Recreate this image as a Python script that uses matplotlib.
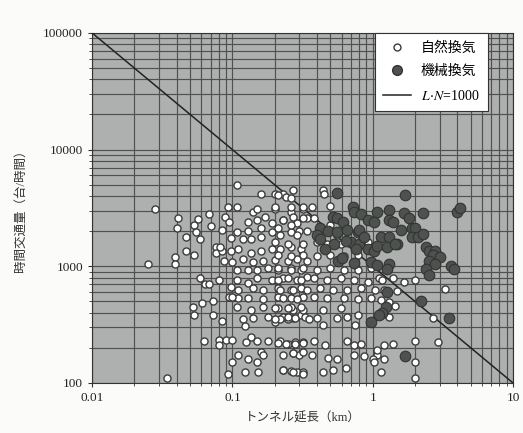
import numpy as np
import matplotlib.pyplot as plt
from matplotlib.lines import Line2D

plt.rcParams['font.family'] = ['Liberation Serif', 'Noto Sans CJK JP']
plt.rcParams['mathtext.fontset'] = 'stix'

# 自然換気 (natural ventilation): tunnel length km, traffic veh/h
nat_km = [0.028, 0.025, 0.034,
          0.107, 0.16, 0.2, 0.23, 0.27,
          0.041, 0.04, 0.068, 0.07, 0.057, 0.053,
          0.055, 0.059, 0.047, 0.047, 0.053, 0.039, 0.039,
          0.076, 0.077, 0.085,
          0.088, 0.093, 0.107, 0.095, 0.085,
          0.059, 0.064, 0.068, 0.08,
          0.052, 0.053, 0.061, 0.073, 0.073, 0.085,
          0.063, 0.08, 0.09, 0.1, 0.08,
          0.095, 0.11, 0.12, 0.123,
          0.1, 0.093, 0.123, 0.153,
          0.11, 0.13, 0.16, 0.165,
          0.135, 0.15, 0.125,
          0.18, 0.22, 0.25, 0.28, 0.32,
          0.23, 0.26, 0.29, 0.32, 0.15,
          0.27, 0.3, 0.2, 0.23, 0.25, 0.27, 0.31,
          0.14, 0.15, 0.17, 0.2, 0.26, 0.32,
          0.13, 0.15, 0.13, 0.16, 0.19, 0.23, 0.29, 0.34,
          0.108, 0.097, 0.12, 0.135, 0.16, 0.19, 0.22, 0.26, 0.3,
          0.082, 0.097, 0.11, 0.135, 0.16, 0.19, 0.22, 0.26, 0.31,
          0.087, 0.1, 0.12, 0.14, 0.165, 0.2, 0.25, 0.29, 0.34,
          0.108, 0.13, 0.15, 0.18, 0.21, 0.26, 0.31,
          0.108, 0.13, 0.15, 0.19, 0.23, 0.29, 0.34,
          0.097, 0.11, 0.14, 0.165, 0.21, 0.26, 0.31,
          0.1, 0.13, 0.165, 0.21, 0.26, 0.32,
          0.108, 0.135, 0.165, 0.21, 0.26, 0.32,
          0.14, 0.18, 0.22, 0.27, 0.33,
          0.44, 0.45, 0.5, 0.21, 0.24, 0.26,
          0.2, 0.26, 0.32, 0.37, 0.27, 0.32, 0.38,
          0.23, 0.26, 0.21, 0.29, 0.34, 0.42, 0.5, 0.56, 0.62, 0.82,
          0.2, 0.25, 0.32, 0.4, 0.47, 0.59, 0.72, 0.92, 1.02,
          0.21, 0.26, 0.32, 0.4, 0.5, 0.62, 0.78,
          0.21, 0.26, 0.32, 0.4, 0.5, 0.62, 0.78, 0.97,
          0.21, 0.25, 0.31, 0.38, 0.47, 0.59, 0.73, 0.92, 1.1,
          0.22, 0.27, 0.34, 0.42, 0.52, 0.66, 0.82, 1.03,
          0.23, 0.29, 0.38, 0.47, 0.62, 0.79, 0.97,
          0.2, 0.25, 0.31, 0.44, 0.59, 0.66, 0.78,
          0.2, 0.25, 0.28, 0.35, 0.4, 0.44, 0.56, 0.75,
          0.21, 0.24, 0.28, 0.32, 0.38, 0.46, 0.66, 0.73, 0.82,
          0.23, 0.27, 0.32, 0.37, 0.48, 0.56, 0.73, 0.86, 1.08,
          0.23, 0.27, 0.32, 0.44, 0.52, 0.64, 1.0,
          3.3, 2.7, 2.0, 2.9, 1.2, 1.4, 1.08, 1.2, 1.02, 1.15, 2.0, 2.0,
          1.17, 1.4, 1.67, 2.0, 1.2, 1.5, 1.15, 1.3, 1.45, 1.3]
nat_veh = [3100, 1050, 110,
           5000, 4150, 4150, 4150, 4500,
           2600, 2150, 2800, 2200, 2550, 2250,
           1950, 1700, 1800, 1350, 1250, 1200, 1050,
           1450, 1300, 1350,
           2650, 3200, 3200, 2400, 2050,
           800, 700, 710, 770,
           450, 380, 480, 500, 380, 340,
           230, 235, 235, 235, 210,
           550, 540, 350, 305,
           150, 120, 125, 125,
           175, 160, 185, 175,
           250, 230, 225,
           230, 230, 215, 225, 225,
           130, 127, 125, 125, 150,
           180, 175, 335, 370, 350, 420, 380,
           2900, 3100, 2650, 3100, 2900, 3100,
           2400, 2500, 2000, 2150, 2350, 2500, 2350, 2600,
           1950, 1750, 1700, 1700, 1800, 1950, 1850, 1950, 2000,
           1450, 1350, 1400, 1300, 1350, 1400, 1400, 1450, 1400,
           1100, 1080, 1150, 1080, 1100, 1130, 1100, 1150, 1100,
           930, 930, 930, 970, 930, 970, 930,
           770, 720, 790, 770, 790, 770, 810,
           660, 630, 650, 630, 650, 630, 650,
           550, 540, 520, 550, 540, 550,
           450, 420, 450, 440, 450, 420,
           360, 370, 350, 360, 370,
           4500, 4150, 3300, 4100, 3950, 3850,
           3200, 3200, 3200, 3200, 2650, 2600, 2600,
           2500, 2250, 2150, 1850, 2000, 2150, 2250, 1850, 2250, 1850,
           1600, 1550, 1550, 1600, 1550, 1550, 1550, 1600, 1500,
           1260, 1220, 1260, 1220, 1260, 1220, 1260,
           970, 930, 970, 930, 970, 930, 930, 970,
           770, 790, 770, 790, 770, 790, 770, 740, 790,
           630, 630, 630, 650, 630, 630, 650, 630,
           540, 520, 550, 540, 540, 520, 540,
           440, 440, 450, 420, 440, 370, 380,
           350, 370, 360, 350, 360, 315, 360, 315,
           220, 215, 215, 220, 230, 210, 230, 210, 215,
           175, 180, 185, 175, 165, 160, 175, 170, 175,
           130, 125, 120, 125, 130, 135, 160,
           640, 360, 230, 225, 210, 215, 190, 160, 150, 125, 150, 110,
           770, 790, 740, 770, 630, 610, 510, 490, 460, 370]

# 機械換気 (mechanical ventilation)
mech_km = [0.56, 0.72, 0.73, 0.52, 0.56, 0.61, 0.82, 0.92, 1.02,
           0.42, 0.48, 0.56, 0.66, 0.78, 0.4,
           0.7, 0.8, 0.92, 1.02, 0.57, 0.73, 0.97, 1.08,
           1.7, 1.08, 1.3, 1.67, 1.8, 2.3, 4.0, 4.2,
           1.3, 1.4, 1.6, 1.9, 2.0, 1.9, 2.1, 2.3,
           1.15, 1.3, 1.5, 1.08, 1.26, 1.45,
           2.4, 2.5, 2.8, 2.7, 3.0, 2.5, 2.8,
           3.6, 3.8, 1.3, 1.27, 2.4, 2.5,
           2.2, 3.5, 1.25, 1.17, 1.1, 0.97, 1.26, 1.7,
           0.42, 0.46, 0.53, 0.65, 0.76, 0.6, 0.8, 0.87]
mech_veh = [4250, 3250, 2900, 2650, 2600, 2400, 2800, 2500, 2400,
            2150, 2000, 1950, 2050, 1950, 1850,
            1600, 1550, 1400, 1350, 1100, 1070, 1080, 1030,
            4100, 2900, 3050, 2850, 2600, 2850, 2900, 3150,
            2500, 2400, 2050, 2150, 2150, 1800, 1800, 1900,
            1800, 1800, 1550, 1500, 1450, 1550,
            1450, 1350, 1350, 1250, 1200, 1100, 1050,
            1000, 950, 1050, 950, 950, 850,
            500, 360, 450, 400, 380, 330, 600, 170,
            1700, 1400, 1550, 1650, 1400, 1180, 2050, 1800]

line_km = [0.01, 10]
line_veh = [1000 / k for k in line_km]

fig = plt.figure(figsize=(5.23, 4.33), dpi=100)
fig.patch.set_facecolor('#fbfbfa')
ax = fig.add_axes([0.176, 0.1155, 0.805, 0.8085])
ax.set_facecolor('#aeb0af')
ax.set_xscale('log')
ax.set_yscale('log')
ax.set_xlim(0.01, 10)
ax.set_ylim(100, 100000)

ax.grid(True, which='both', color='#505050', linewidth=0.85)
ax.set_axisbelow(True)

ax.plot(line_km, line_veh, color='#222222', linewidth=1.1, zorder=3)
ax.scatter(nat_km, nat_veh, s=26, facecolor='white', edgecolor='#3c3c3c',
           linewidth=1.0, zorder=4)
ax.scatter(mech_km, mech_veh, s=58, facecolor='#4d524f', edgecolor='#333333',
           linewidth=0.8, zorder=5)

ax.set_xticks([0.01, 0.1, 1, 10])
ax.set_xticklabels(['0.01', '0.1', '1', '10'])
ax.set_yticks([100, 1000, 10000, 100000])
ax.set_yticklabels(['100', '1000', '10000', '100000'])
ax.tick_params(which='both', labelsize=9.5, length=3, color='#333333',
               labelcolor='#222222')
ax.tick_params(which='minor', length=2)
for sp in ax.spines.values():
    sp.set_color('#333333')

ax.set_xlabel('トンネル延長（km）', fontsize=9, color='#333333', labelpad=6)
ax.set_ylabel('時間交通量（台/時間）', fontsize=9, color='#333333', labelpad=12)

handles = [
    Line2D([], [], linestyle='none', marker='o', markersize=5,
           markerfacecolor='white', markeredgecolor='#3c3c3c'),
    Line2D([], [], linestyle='none', marker='o', markersize=7,
           markerfacecolor='#4d524f', markeredgecolor='#333333'),
    Line2D([], [], color='#222222', linewidth=1.1),
]
labels = ['自然換気', '機械換気', r'$L\!\cdot\!N$=1000']
leg = ax.legend(handles, labels, loc='upper right', bbox_to_anchor=(0.94, 1.0),
                borderaxespad=0, fontsize=10, fancybox=False, framealpha=1,
                handlelength=2.0, handletextpad=0.7, labelspacing=0.75,
                borderpad=0.6)
leg.get_frame().set_edgecolor('#333333')
leg.get_frame().set_linewidth(0.8)
leg.set_zorder(6)

fig.savefig('out.png', dpi=100)
